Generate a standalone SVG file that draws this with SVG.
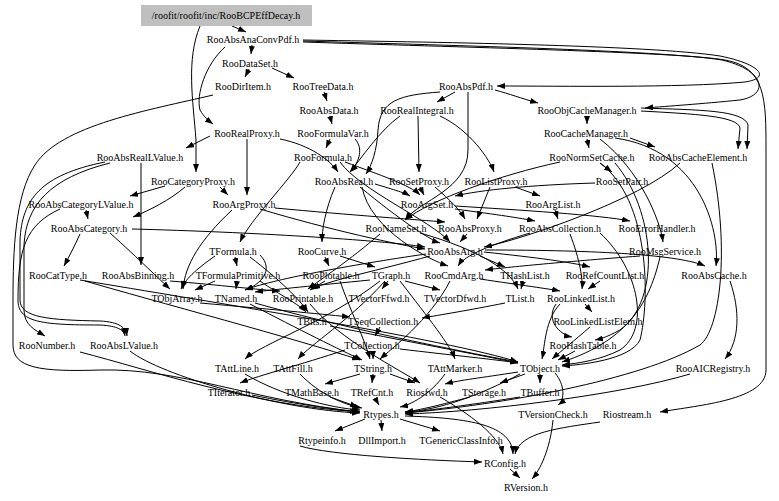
<svg xmlns="http://www.w3.org/2000/svg" width="779" height="501" viewBox="0 0 779 501">
<defs>
<marker id="a" viewBox="0 0 8 6" refX="8" refY="3" markerWidth="8" markerHeight="6" markerUnits="userSpaceOnUse" orient="auto"><path d="M0,0 L8,3 L0,6 z" fill="#000"/></marker>
<style>
text{font-family:"Liberation Serif","Times New Roman",serif;font-size:10px;text-anchor:middle;fill:#000}
.e path{fill:none;stroke:#000;stroke-width:1;marker-end:url(#a)}
</style>
</defs>
<rect width="779" height="501" fill="#fff"/>
<g id="edges" class="e">
<path d="M232,26 L246,32"/>
<path d="M252,45 L251,54"/>
<path d="M272,68 L294,78"/>
<path d="M249,69 L245,77"/>
<path d="M324,92 L327,101"/>
<path d="M330,116 L332,124"/>
<path d="M330,139 L326,148"/>
<path d="M495,90 C510,94 520,98 538,103"/>
<path d="M455,92 L437,102"/>
<path d="M587,116 L587,124"/>
<path d="M587,139 L589,148"/>
<path d="M630,138 L655,147"/>
<path d="M641,108 C700,110 744,110 748,125 L747,149"/>
<path d="M641,111 C695,114 738,116 740,128 L738,149"/>
<path d="M200,26 C186,60 193,100 196,140 L196,172"/>
<path d="M225,47 C205,65 196,95 200,110 C204,117 209,121 213,124"/>
<path d="M303,40 C420,42 650,45 720,56 C760,64 772,78 745,82 C680,88 560,86 497,86"/>
<path d="M303,41 C430,45 660,50 722,60 C765,70 770,95 740,100 C700,104 670,106 645,108"/>
<path d="M303,42 C450,47 680,52 725,60 C766,67 766,100 766,150 L766,370 C766,400 700,405 660,412"/>
<path d="M213,95 C150,110 60,125 35,165 C15,195 13,250 13,300 L13,345 C13,368 40,372 100,370 C180,368 250,400 360,412"/>
<path d="M210,136 L186,148"/>
<path d="M247,139 L247,195"/>
<path d="M280,139 C310,145 330,160 338,172"/>
<path d="M355,139 C365,150 357,165 350,172"/>
<path d="M440,92 C400,95 380,100 378,130 C377,150 372,165 366,174"/>
<path d="M468,92 L468,150 C468,190 420,200 405,220"/>
<path d="M300,162 C290,180 250,220 240,242"/>
<path d="M340,162 C360,190 430,220 450,242"/>
<path d="M345,162 C380,175 410,185 420,195"/>
<path d="M400,116 C380,130 360,160 350,172"/>
<path d="M418,116 L419,172"/>
<path d="M440,116 C470,130 490,160 494,172"/>
<path d="M141,163 L141,265"/>
<path d="M105,162 C40,175 22,200 20,240 L20,300 C20,318 50,320 100,321 C120,322 126,328 127,336"/>
<path d="M110,163 C50,178 26,205 24,245 L24,310 C24,325 35,330 45,336"/>
<path d="M165,186 L130,196"/>
<path d="M220,187 L228,195"/>
<path d="M185,187 C170,200 150,210 133,217"/>
<path d="M86,210 L88,219"/>
<path d="M60,209 C25,225 18,250 18,300 C18,322 40,325 100,325 C118,326 124,330 125,336"/>
<path d="M80,234 C75,245 70,255 64,266"/>
<path d="M132,229 C250,232 380,240 425,247"/>
<path d="M110,233 C140,260 160,280 170,289"/>
<path d="M275,208 C350,215 420,220 445,222"/>
<path d="M260,209 C330,230 400,245 425,249"/>
<path d="M232,210 C200,240 185,265 183,289"/>
<path d="M420,187 L424,195"/>
<path d="M435,187 C450,200 460,210 465,219"/>
<path d="M515,187 L540,196"/>
<path d="M490,187 L477,219"/>
<path d="M595,183 C530,185 480,190 455,196"/>
<path d="M600,163 L612,172"/>
<path d="M560,162 C500,175 430,200 405,220"/>
<path d="M335,187 C325,210 322,230 322,242"/>
<path d="M360,187 C400,220 430,240 440,243"/>
<path d="M375,184 C395,190 405,193 410,196"/>
<path d="M362,187 C370,230 430,260 448,266"/>
<path d="M600,139 C640,170 660,220 663,242"/>
<path d="M615,138 C700,150 720,230 716,266"/>
<path d="M680,163 C640,200 520,240 484,247"/>
<path d="M712,163 C730,250 720,330 700,345 C640,380 500,405 405,413"/>
<path d="M600,163 C650,200 650,300 640,340 C630,360 580,365 562,366"/>
<path d="M615,163 C655,210 662,300 620,330 C605,338 600,339 595,340"/>
<path d="M455,209 C500,215 520,218 535,221"/>
<path d="M455,206 C520,210 600,215 630,221"/>
<path d="M555,210 L558,219"/>
<path d="M600,233 C640,270 650,330 620,350 C600,360 580,363 562,365"/>
<path d="M570,234 C580,260 583,280 582,289"/>
<path d="M530,233 C490,245 465,255 458,266"/>
<path d="M420,233 C480,250 510,270 518,289"/>
<path d="M380,234 C350,260 320,280 308,289"/>
<path d="M467,234 L460,242"/>
<path d="M235,257 L237,266"/>
<path d="M215,256 C195,270 185,280 181,289"/>
<path d="M250,257 C280,280 300,300 308,312"/>
<path d="M260,255 C275,270 260,285 245,290"/>
<path d="M340,256 L375,267"/>
<path d="M325,257 L329,266"/>
<path d="M480,256 L505,267"/>
<path d="M430,256 C380,270 330,280 312,289"/>
<path d="M484,252 C540,258 570,262 590,267"/>
<path d="M485,250 C600,250 680,255 705,266"/>
<path d="M426,254 C350,265 270,280 245,290"/>
<path d="M660,257 C650,300 630,340 562,362"/>
<path d="M640,256 C560,262 500,268 485,270"/>
<path d="M80,280 C200,300 450,340 518,362"/>
<path d="M85,281 C150,300 300,340 360,360"/>
<path d="M170,281 C220,285 260,290 280,291"/>
<path d="M237,281 L236,289"/>
<path d="M215,281 L195,290"/>
<path d="M260,281 C280,295 300,305 306,312"/>
<path d="M325,281 L310,290"/>
<path d="M340,281 C350,310 365,340 370,359"/>
<path d="M388,281 L382,289"/>
<path d="M405,281 L440,290"/>
<path d="M370,280 C320,285 270,290 255,292"/>
<path d="M380,281 C330,320 260,345 245,359"/>
<path d="M385,281 C350,320 310,345 298,359"/>
<path d="M400,281 C430,320 450,345 455,359"/>
<path d="M480,279 C520,285 550,289 560,291"/>
<path d="M450,281 C430,320 390,350 380,359"/>
<path d="M523,281 L521,289"/>
<path d="M600,281 L588,289"/>
<path d="M730,281 C740,310 740,340 725,359"/>
<path d="M200,303 C280,310 330,315 350,317"/>
<path d="M255,303 C350,330 480,355 518,362"/>
<path d="M250,304 C300,330 340,350 362,360"/>
<path d="M310,304 C340,340 400,370 420,383"/>
<path d="M505,303 C470,310 440,315 422,318"/>
<path d="M585,304 L592,312"/>
<path d="M556,304 C545,320 560,335 572,337"/>
<path d="M560,304 C545,320 545,345 542,359"/>
<path d="M330,326 C400,340 480,355 518,363"/>
<path d="M380,327 L375,336"/>
<path d="M590,327 C575,340 560,352 552,359"/>
<path d="M80,352 C150,370 250,405 360,412"/>
<path d="M130,351 C160,375 280,410 360,413"/>
<path d="M400,349 C450,355 500,360 518,363"/>
<path d="M345,350 C300,365 260,375 240,383"/>
<path d="M373,351 L373,359"/>
<path d="M575,351 L558,360"/>
<path d="M245,374 C280,395 330,408 360,410"/>
<path d="M300,374 C320,395 345,405 362,408"/>
<path d="M360,374 L325,384"/>
<path d="M373,374 L372,383"/>
<path d="M390,374 L415,383"/>
<path d="M445,374 C430,395 410,405 400,407"/>
<path d="M525,374 L500,383"/>
<path d="M540,374 L540,383"/>
<path d="M518,372 C480,378 460,380 445,384"/>
<path d="M520,374 C480,395 440,410 405,412"/>
<path d="M555,373 C565,385 565,400 558,405"/>
<path d="M690,374 C620,395 480,412 405,414"/>
<path d="M252,395 C300,405 340,410 358,412"/>
<path d="M330,397 L358,407"/>
<path d="M375,398 L379,405"/>
<path d="M470,397 C440,405 420,410 405,412"/>
<path d="M520,397 C470,405 430,410 405,413"/>
<path d="M440,397 C480,420 500,440 503,454"/>
<path d="M365,419 L335,431"/>
<path d="M381,420 L382,431"/>
<path d="M400,419 L440,431"/>
<path d="M405,416 C470,418 512,425 513,454"/>
<path d="M300,446 C330,455 420,460 482,462"/>
<path d="M553,420 C550,450 540,470 532,479"/>
<path d="M600,422 C560,428 520,432 515,454"/>
<path d="M510,469 L520,478"/>
</g>
<g id="n0"><rect x="141" y="5" width="171" height="21" fill="#bfbfbf"/><text x="226" y="19">/roofit/roofit/inc/RooBCPEffDecay.h</text></g>
<g id="n1"><text x="253" y="42.5">RooAbsAnaConvPdf.h</text></g>
<g id="n2"><text x="250" y="66.5">RooDataSet.h</text></g>
<g id="n3"><text x="323" y="89.5">RooTreeData.h</text></g>
<g id="n4"><text x="243" y="89.5">RooDirItem.h</text></g>
<g id="n5"><text x="466" y="89.5">RooAbsPdf.h</text></g>
<g id="n6"><text x="329" y="113.5">RooAbsData.h</text></g>
<g id="n7"><text x="417" y="113.5">RooRealIntegral.h</text></g>
<g id="n8"><text x="587" y="113.5">RooObjCacheManager.h</text></g>
<g id="n9"><text x="247" y="136.5">RooRealProxy.h</text></g>
<g id="n10"><text x="333" y="136.5">RooFormulaVar.h</text></g>
<g id="n11"><text x="586" y="136.5">RooCacheManager.h</text></g>
<g id="n12"><text x="140" y="160.5">RooAbsRealLValue.h</text></g>
<g id="n13"><text x="323" y="160.5">RooFormula.h</text></g>
<g id="n14"><text x="592" y="160.5">RooNormSetCache.h</text></g>
<g id="n15"><text x="698" y="160.5">RooAbsCacheElement.h</text></g>
<g id="n16"><text x="193" y="184.5">RooCategoryProxy.h</text></g>
<g id="n17"><text x="344" y="184.5">RooAbsReal.h</text></g>
<g id="n18"><text x="419" y="184.5">RooSetProxy.h</text></g>
<g id="n19"><text x="496" y="184.5">RooListProxy.h</text></g>
<g id="n20"><text x="622" y="184.5">RooSetPair.h</text></g>
<g id="n21"><text x="81" y="207.5">RooAbsCategoryLValue.h</text></g>
<g id="n22"><text x="244" y="207.5">RooArgProxy.h</text></g>
<g id="n23"><text x="427" y="207.5">RooArgSet.h</text></g>
<g id="n24"><text x="553" y="207.5">RooArgList.h</text></g>
<g id="n25"><text x="89" y="231.5">RooAbsCategory.h</text></g>
<g id="n26"><text x="396" y="231.5">RooNameSet.h</text></g>
<g id="n27"><text x="470" y="231.5">RooAbsProxy.h</text></g>
<g id="n28"><text x="560" y="231.5">RooAbsCollection.h</text></g>
<g id="n29"><text x="657" y="231.5">RooErrorHandler.h</text></g>
<g id="n30"><text x="233" y="254.5">TFormula.h</text></g>
<g id="n31"><text x="322" y="254.5">RooCurve.h</text></g>
<g id="n32"><text x="455" y="254.5">RooAbsArg.h</text></g>
<g id="n33"><text x="665" y="254.5">RooMsgService.h</text></g>
<g id="n34"><text x="58" y="278.5">RooCatType.h</text></g>
<g id="n35"><text x="138" y="278.5">RooAbsBinning.h</text></g>
<g id="n36"><text x="238" y="278.5">TFormulaPrimitive.h</text></g>
<g id="n37"><text x="331" y="278.5">RooPlotable.h</text></g>
<g id="n38"><text x="391" y="278.5">TGraph.h</text></g>
<g id="n39"><text x="454" y="278.5">RooCmdArg.h</text></g>
<g id="n40"><text x="525" y="278.5">THashList.h</text></g>
<g id="n41"><text x="605" y="278.5">RooRefCountList.h</text></g>
<g id="n42"><text x="714" y="278.5">RooAbsCache.h</text></g>
<g id="n43"><text x="177" y="301.5">TObjArray.h</text></g>
<g id="n44"><text x="236" y="301.5">TNamed.h</text></g>
<g id="n45"><text x="303" y="301.5">RooPrintable.h</text></g>
<g id="n46"><text x="379" y="301.5">TVectorFfwd.h</text></g>
<g id="n47"><text x="455" y="301.5">TVectorDfwd.h</text></g>
<g id="n48"><text x="520" y="301.5">TList.h</text></g>
<g id="n49"><text x="581" y="301.5">RooLinkedList.h</text></g>
<g id="n50"><text x="312" y="324.5">TBits.h</text></g>
<g id="n51"><text x="383" y="324.5">TSeqCollection.h</text></g>
<g id="n52"><text x="598" y="324.5">RooLinkedListElem.h</text></g>
<g id="n53"><text x="47" y="348.5">RooNumber.h</text></g>
<g id="n54"><text x="124" y="348.5">RooAbsLValue.h</text></g>
<g id="n55"><text x="372" y="348.5">TCollection.h</text></g>
<g id="n56"><text x="583" y="348.5">RooHashTable.h</text></g>
<g id="n57"><text x="237" y="371.5">TAttLine.h</text></g>
<g id="n58"><text x="293" y="371.5">TAttFill.h</text></g>
<g id="n59"><text x="373" y="371.5">TString.h</text></g>
<g id="n60"><text x="455" y="371.5">TAttMarker.h</text></g>
<g id="n61"><text x="540" y="371.5">TObject.h</text></g>
<g id="n62"><text x="713" y="371.5">RooAICRegistry.h</text></g>
<g id="n63"><text x="229" y="395.5">TIterator.h</text></g>
<g id="n64"><text x="312" y="395.5">TMathBase.h</text></g>
<g id="n65"><text x="372" y="395.5">TRefCnt.h</text></g>
<g id="n66"><text x="427" y="395.5">Riosfwd.h</text></g>
<g id="n67"><text x="484" y="395.5">TStorage.h</text></g>
<g id="n68"><text x="540" y="395.5">TBuffer.h</text></g>
<g id="n69"><text x="381" y="417.5">Rtypes.h</text></g>
<g id="n70"><text x="553" y="417.5">TVersionCheck.h</text></g>
<g id="n71"><text x="627" y="417.5">Riostream.h</text></g>
<g id="n72"><text x="322" y="443.5">Rtypeinfo.h</text></g>
<g id="n73"><text x="382" y="443.5">DllImport.h</text></g>
<g id="n74"><text x="461" y="443.5">TGenericClassInfo.h</text></g>
<g id="n75"><text x="505" y="466.5">RConfig.h</text></g>
<g id="n76"><text x="526" y="490.5">RVersion.h</text></g>
</svg>
